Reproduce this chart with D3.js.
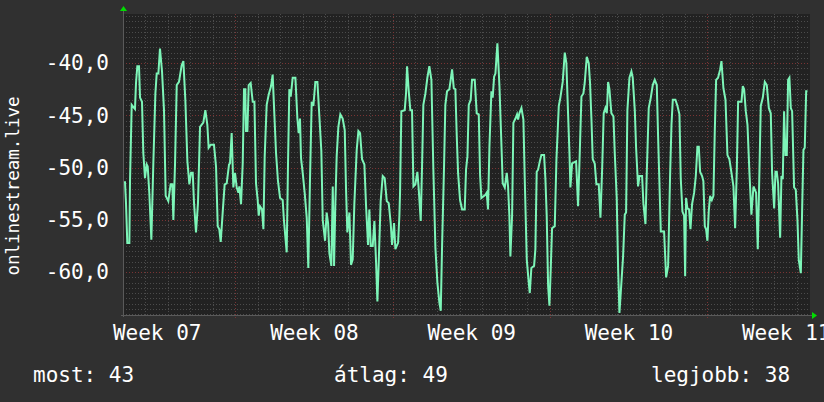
<!DOCTYPE html>
<html>
<head>
<meta charset="utf-8">
<script src="https://cdn.jsdelivr.net/npm/d3@7"></script>
<style>
  body { margin: 0; background: #303030; }
  svg { display: block; }
  text { font-family: "DejaVu Sans Mono", monospace; fill: #ffffff; }
</style>
</head>
<body>
<div id="chart"></div>
<script>
var svgWidth = 824;
var svgHeight = 402;

var margin = { top: 14, right: 14, bottom: 87, left: 123 };
var width = svgWidth - margin.left - margin.right;
var height = svgHeight - margin.top - margin.bottom;

// hours since 2021-02-17 00:00 UTC
var hours = [2.1, 3.2, 4.6, 6.8, 7.5, 9.3, 12.8, 13.9, 15.3, 17.1, 18.2, 20.3, 21.7, 23.5, 25.3, 26.4, 28.1, 30.3, 32.4, 34.6,
  36.0, 37.8, 39.5, 41.7, 43.8, 45.6, 48.4, 50.9, 52.7, 53.8, 55.6, 57.4, 59.8, 62.7, 64.5, 66.6, 68.8, 70.9, 72.7, 74.5,
  75.9, 78.0, 80.1, 82.3, 85.8, 88.0, 90.1, 91.5, 93.7, 97.2, 99.4, 101.2, 102.9, 104.4, 106.5, 108.6, 110.8, 113.3, 114.3, 116.1,
  117.9, 119.7, 121.5, 123.3, 124.3, 126.1, 127.9, 129.3, 130.7, 131.4, 132.9, 134.3, 136.4, 138.6, 140.4, 142.1, 143.9, 145.0, 146.4, 148.5,
  150.0, 151.4, 153.5, 155.7, 158.2, 159.9, 161.7, 163.5, 165.6, 167.8, 170.6, 172.0, 174.9, 176.3, 177.7, 179.2, 181.3, 184.2, 186.3, 187.7,
  189.1, 190.2, 192.0, 194.1, 196.3, 198.0, 199.8, 201.6, 203.4, 205.5, 207.7, 209.8, 211.9, 213.4, 215.9, 217.6, 219.1, 220.5, 222.6, 224.1,
  225.5, 226.9, 228.3, 230.1, 232.2, 234.7, 236.9, 238.3, 239.7, 241.9, 243.6, 245.4, 247.2, 249.7, 251.5, 253.3, 255.4, 257.9, 259.7, 261.8,
  263.2, 264.7, 266.8, 268.6, 270.4, 271.8, 273.2, 275.3, 277.5, 279.6, 281.8, 283.9, 286.0, 287.5, 289.6, 291.0, 293.9, 295.3, 296.0, 297.4,
  301.0, 302.4, 303.5, 305.3, 307.0, 308.8, 310.3, 312.4, 314.5, 316.0, 318.1, 319.5, 320.9, 323.1, 325.2, 327.3, 329.5, 331.6, 333.8, 335.9,
  338.0, 339.5, 340.9, 343.0, 344.4, 346.2, 348.7, 350.1, 351.6, 353.4, 355.1, 356.6, 358.0, 360.1, 362.3, 365.1, 366.5, 368.0, 369.4, 371.5,
  372.9, 375.8, 377.9, 380.1, 381.5, 382.9, 387.2, 388.6, 390.0, 391.5, 393.6, 395.0, 396.5, 397.9, 400.0, 402.2, 403.6, 405.7, 407.9, 410.0,
  411.4, 412.8, 413.9, 415.7, 417.1, 419.3, 421.0, 422.1, 423.5, 425.7, 427.8, 429.2, 431.4, 433.5, 434.6, 436.3, 439.2, 440.6, 442.0, 443.5,
  445.3, 447.0, 449.9, 451.3, 452.7, 454.2, 455.6, 457.0, 458.4, 461.3, 463.1, 465.6, 467.3, 469.8, 472.0, 473.7, 475.5, 477.0, 478.0, 479.8,
  484.1, 486.2, 488.0, 489.8, 491.9, 493.3, 495.5, 497.6, 499.0, 500.5, 501.9, 504.0, 505.8, 508.3, 510.1, 511.9, 513.6, 515.4, 516.9, 518.3,
  519.7, 521.8, 524.0, 525.4, 527.5, 529.0, 530.4, 532.5, 534.3, 536.1, 537.5, 538.9, 541.1, 543.2, 544.6, 546.8, 548.2, 550.3, 551.8, 554.6,
  556.0, 558.2, 559.6, 561.7, 563.9, 566.0, 568.1, 570.3, 571.7, 574.6, 578.1, 580.3, 582.4, 584.5, 586.0, 587.4, 590.2, 592.4, 594.5, 595.9,
  597.7, 599.5, 600.6, 601.6, 603.0, 604.8, 606.3, 608.0, 610.2, 612.0, 613.7, 615.2, 616.6, 618.7, 620.1, 621.6, 623.0, 624.4, 625.8, 627.3,
  629.1, 630.8, 632.3, 633.7, 635.8, 638.0, 639.4, 641.5, 643.7, 645.8, 647.9, 650.1, 652.2, 654.0, 655.8, 657.2, 660.8, 662.2, 663.6, 665.4,
  667.2, 669.3, 671.4, 673.6, 676.4, 678.2, 680.0, 681.4, 683.6, 685.7, 687.8, 690.0, 692.1, 693.5, 695.7, 697.1, 698.5, 699.9, 702.1, 703.5,
  704.9, 706.3, 707.8, 709.2, 710.6, 712.0, 713.5, 714.9, 717.0, 718.8, 720.6, 722.0, 724.2, 725.6, 727.0, 728.4, 729.9, 731.3];

var signal = [-51.3, -53.4, -57.2, -57.2, -51.2, -44.0, -44.4, -41.9, -40.3, -40.3, -43.3, -43.7, -48.6, -51.0, -49.7, -49.9, -52.4, -56.9, -49.6, -42.9,
  -41.0, -41.0, -38.6, -40.8, -44.5, -52.7, -53.2, -51.6, -51.6, -55.0, -49.6, -42.1, -41.8, -40.2, -39.8, -43.5, -49.4, -51.6, -50.5, -50.5,
  -53.4, -56.2, -53.4, -46.1, -45.7, -44.5, -45.9, -48.1, -47.8, -47.8, -49.9, -55.6, -55.9, -57.1, -54.3, -51.6, -51.5, -49.7, -49.6, -46.7,
  -51.9, -50.5, -51.9, -52.4, -51.8, -53.5, -49.6, -42.5, -42.5, -46.5, -46.5, -42.1, -41.9, -43.7, -43.7, -51.5, -53.1, -54.6, -53.7, -54.0,
  -55.9, -48.9, -44.0, -43.0, -42.2, -41.1, -44.9, -48.6, -51.3, -52.9, -53.1, -55.1, -58.1, -49.6, -42.5, -43.2, -41.4, -41.4, -45.3, -46.7,
  -45.3, -49.1, -50.5, -52.4, -54.8, -59.6, -51.1, -43.7, -44.1, -41.8, -41.8, -45.1, -48.4, -55.0, -57.0, -54.3, -55.3, -58.2, -59.4, -51.8,
  -59.4, -53.4, -48.9, -46.1, -44.9, -45.3, -46.4, -52.1, -56.2, -54.3, -59.3, -58.8, -53.4, -48.3, -46.5, -46.7, -49.2, -49.7, -53.7, -57.4,
  -54.0, -57.5, -57.5, -55.1, -59.1, -62.8, -59.1, -53.2, -50.8, -51.0, -53.2, -53.4, -55.3, -57.4, -55.3, -57.8, -57.2, -54.6, -52.4, -44.6,
  -44.5, -42.9, -40.3, -42.7, -44.5, -44.5, -51.8, -51.6, -50.4, -52.1, -55.1, -49.9, -44.0, -42.9, -41.4, -40.3, -41.6, -50.2, -57.7, -61.0,
  -62.9, -63.7, -57.5, -49.9, -44.0, -42.7, -42.5, -41.6, -40.6, -42.4, -42.5, -47.0, -50.5, -53.1, -54.0, -54.0, -50.2, -48.9, -44.0, -43.5,
  -41.6, -41.6, -44.8, -44.9, -50.7, -52.9, -52.6, -52.4, -54.0, -48.0, -42.7, -43.3, -41.3, -41.0, -38.1, -42.2, -45.9, -51.5, -51.9, -50.5,
  -51.8, -54.6, -58.5, -54.6, -45.7, -45.3, -44.9, -45.4, -44.8, -44.3, -45.4, -51.0, -58.8, -61.0, -62.0, -59.6, -59.4, -57.8, -50.4, -50.2,
  -49.4, -48.8, -48.8, -51.1, -54.6, -61.3, -63.2, -59.7, -55.8, -55.6, -49.2, -44.1, -43.3, -41.8, -39.0, -40.0, -44.8, -48.6, -51.9, -49.6,
  -49.4, -53.7, -48.6, -43.2, -42.9, -41.9, -39.4, -40.0, -41.9, -45.4, -49.2, -49.6, -51.6, -51.6, -54.8, -50.2, -44.8, -44.3, -44.8, -41.8,
  -42.5, -44.8, -45.1, -48.6, -52.9, -59.7, -63.9, -61.0, -58.5, -54.5, -54.3, -44.5, -41.4, -40.8, -41.4, -44.5, -48.1, -51.8, -50.8, -50.8,
  -53.4, -55.4, -50.5, -44.3, -43.3, -42.1, -41.6, -42.1, -47.0, -56.1, -56.1, -60.5, -59.4, -50.8, -45.9, -43.5, -43.5, -44.1, -44.9, -51.0,
  -54.2, -54.6, -60.4, -52.9, -53.9, -54.0, -55.9, -53.5, -52.4, -50.8, -48.0, -48.0, -50.4, -50.8, -51.3, -55.6, -55.9, -57.0, -54.2, -52.7,
  -53.1, -52.7, -46.4, -41.6, -41.4, -40.6, -39.8, -42.4, -43.5, -48.8, -49.2, -50.5, -51.8, -55.8, -50.2, -43.7, -43.7, -42.2, -42.5, -44.6,
  -45.9, -50.5, -54.5, -51.8, -52.4, -57.8, -50.2, -44.1, -43.3, -41.8, -42.1, -44.3, -44.8, -50.5, -53.9, -50.4, -50.4, -51.5, -56.7, -50.8,
  -51.1, -44.6, -48.8, -48.8, -41.6, -41.4, -44.3, -44.6, -51.9, -52.1, -55.0, -58.8, -60.1, -54.0, -48.3, -48.1, -42.7, -42.7];

var yTicks = [-60, -55, -50, -45, -40];
var weekTicks = ["2021-02-18T12:00:00Z", "2021-02-25T12:00:00Z", "2021-03-04T12:00:00Z", "2021-03-11T12:00:00Z", "2021-03-18T12:00:00Z"];
var legendLabels = ["most: 43", "átlag: 49", "legjobb: 38"];
var seriesTitle = "onlinestream.live";

var startTime = new Date("2021-02-17T00:00:00Z");
var endTime = d3.utcHour.offset(startTime, 734);

var huLocale = d3.formatLocale({ decimal: ",", thousands: ".", grouping: [3], currency: ["", " Ft"], minus: "-" });
var yFormat = huLocale.format(".1f");

var svg = d3.select("#chart")
  .append("svg")
  .attr("width", svgWidth)
  .attr("height", svgHeight);

svg.append("rect")
  .attr("width", svgWidth)
  .attr("height", svgHeight)
  .attr("fill", "#303030");

var chartGroup = svg.append("g")
  .attr("transform", `translate(${margin.left}, ${margin.top})`);

var xTimeScale = d3.scaleUtc()
  .domain([startTime, endTime])
  .range([0, width]);

var yLinearScale = d3.scaleLinear()
  .domain([-64.1, -35.3])
  .range([height, 0]);

chartGroup.append("rect")
  .attr("width", width)
  .attr("height", height)
  .attr("fill", "#222222");

// minor grid
var minorY = d3.range(-64, -35.3, 0.5).filter(v => v % 5 !== 0);
chartGroup.selectAll(".hminor")
  .data(minorY)
  .enter()
  .append("line")
  .attr("x1", 0)
  .attr("x2", width)
  .attr("y1", d => Math.round(yLinearScale(d)) + 0.5)
  .attr("y2", d => Math.round(yLinearScale(d)) + 0.5)
  .attr("stroke", "#4c4c4c")
  .attr("stroke-dasharray", "1,2");

var days = d3.utcDay.range(d3.utcDay.offset(startTime, 1), endTime)
  .filter(d => d.getUTCDay() !== 1);
chartGroup.selectAll(".vminor")
  .data(days)
  .enter()
  .append("line")
  .attr("x1", d => Math.round(xTimeScale(d)) + 0.5)
  .attr("x2", d => Math.round(xTimeScale(d)) + 0.5)
  .attr("y1", 0)
  .attr("y2", height + 2)
  .attr("stroke", "#4c4c4c")
  .attr("stroke-dasharray", "1,2");

// major grid
chartGroup.selectAll(".hmajor")
  .data(yTicks)
  .enter()
  .append("line")
  .attr("x1", 0)
  .attr("x2", width)
  .attr("y1", d => Math.round(yLinearScale(d)) + 0.5)
  .attr("y2", d => Math.round(yLinearScale(d)) + 0.5)
  .attr("stroke", "#7a3434")
  .attr("stroke-dasharray", "1,2");

var mondays = d3.utcMonday.range(startTime, endTime);
chartGroup.selectAll(".vmajor")
  .data(mondays)
  .enter()
  .append("line")
  .attr("x1", d => Math.round(xTimeScale(d)) + 0.5)
  .attr("x2", d => Math.round(xTimeScale(d)) + 0.5)
  .attr("y1", 0)
  .attr("y2", height + 3)
  .attr("stroke", "#7a3434")
  .attr("stroke-dasharray", "1,2");

// axes
var leftAxis = d3.axisLeft(yLinearScale)
  .tickValues(yTicks)
  .tickSize(0)
  .tickPadding(14)
  .tickFormat(yFormat);

var bottomAxis = d3.axisBottom(xTimeScale)
  .tickValues(weekTicks.map(d => new Date(d)))
  .tickSize(0)
  .tickPadding(10)
  .tickFormat(d3.utcFormat("Week %V"));

chartGroup.append("g")
  .attr("class", "y-axis")
  .call(leftAxis);

chartGroup.append("g")
  .attr("class", "x-axis")
  .attr("transform", `translate(0, ${height})`)
  .call(bottomAxis);

chartGroup.selectAll(".domain").remove();
chartGroup.selectAll(".tick text")
  .attr("fill", "#ffffff")
  .attr("font-family", "DejaVu Sans Mono")
  .attr("font-size", "21px");

// axis lines and arrows
chartGroup.append("line")
  .attr("x1", 0.5).attr("x2", 0.5)
  .attr("y1", -4).attr("y2", height + 2)
  .attr("stroke", "#5a5a5a");
chartGroup.append("line")
  .attr("x1", -2).attr("x2", width + 2)
  .attr("y1", height + 0.5).attr("y2", height + 0.5)
  .attr("stroke", "#5a5a5a");
chartGroup.append("path")
  .attr("d", "M-3,-3L0.5,-8L4,-3Z")
  .attr("fill", "#00dd00");
chartGroup.append("path")
  .attr("d", `M${width + 2},${height - 3}L${width + 7},${height + 0.5}L${width + 2},${height + 4}Z`)
  .attr("fill", "#00dd00");

// series
var points = hours.map((h, i) => ({ t: d3.utcMinute.offset(startTime, Math.round(h * 60)), v: signal[i] }));

var line = d3.line()
  .x(d => xTimeScale(d.t))
  .y(d => yLinearScale(d.v));

chartGroup.append("clipPath")
  .attr("id", "plotclip")
  .append("rect")
  .attr("width", width)
  .attr("height", height);

chartGroup.append("path")
  .datum(points)
  .attr("clip-path", "url(#plotclip)")
  .attr("fill", "none")
  .attr("stroke", "#7df5b8")
  .attr("stroke-width", 2)
  .attr("stroke-linejoin", "miter")
  .attr("d", line);

// y title
svg.append("text")
  .attr("transform", "translate(19, 186) rotate(-90)")
  .attr("text-anchor", "middle")
  .attr("font-size", "17.5px")
  .text(seriesTitle);

// legend
var legendX = [33, 334, 651];
svg.selectAll(".legend")
  .data(legendLabels)
  .enter()
  .append("text")
  .attr("x", (d, i) => legendX[i])
  .attr("y", 382)
  .attr("font-size", "21px")
  .text(d => d);
</script>
</body>
</html>
